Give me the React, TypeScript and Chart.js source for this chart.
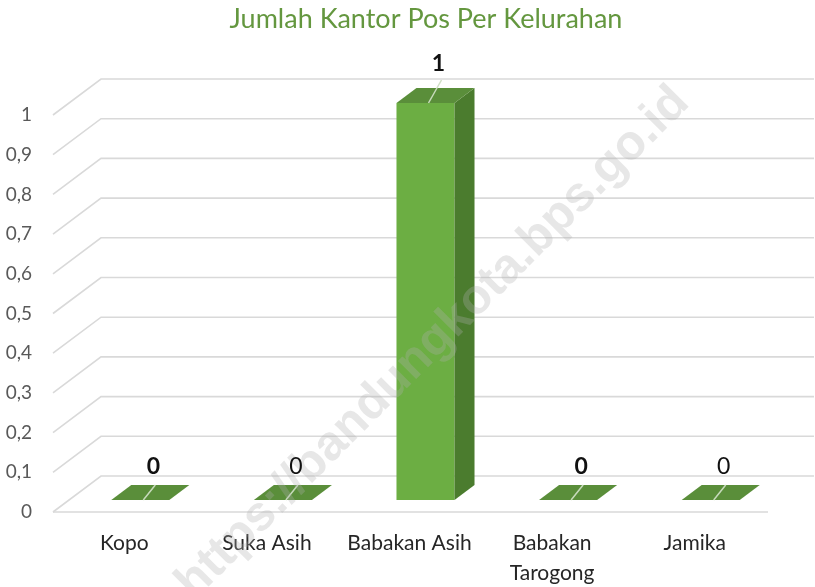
import React, { useEffect, useRef } from "react";
import { Chart, registerables } from "chart.js";

Chart.register(...registerables);

const categories: (string | string[])[] = ["Kopo", "Suka Asih", "Babakan Asih", ["Babakan", "Tarogong"], "Jamika"];
const values: number[] = [0, 0, 1, 0, 0];
const dataLabels: string[] = ["0", "0", "1", "0", "0"];
const labelBold: boolean[] = [true, false, true, true, false];
const yTickValues: number[] = [0, 0.1, 0.2, 0.3, 0.4, 0.5, 0.6, 0.7, 0.8, 0.9, 1];
const titleText = "Jumlah Kantor Pos Per Kelurahan";
const watermarkText = "https://bandungkota.bps.go.id";

const FONT = "Lato, 'Open Sans', sans-serif";
const FRONT = "#6cae43";
const TOP = "#5a8e3a";
const SIDE = "#4b7c2e";
const GRID = "#d9d9d9";

// depth of floor (px) and bar placement within depth
const DEPTH_X = 48;
const DEPTH_Y = -36;
const BAR_T0 = 1 / 3;
const BAR_T1 = 0.75;

const threeD = {
  id: "threeD",
  beforeDatasetsDraw(chart: any) {
    const ctx = chart.ctx;
    const area = chart.chartArea;
    const y = chart.scales.y;

    // gridlines: left wall diagonal + back wall horizontal
    ctx.save();
    ctx.strokeStyle = GRID;
    ctx.lineWidth = 1.6;
    yTickValues.forEach((v) => {
      const py = y.getPixelForValue(v);
      ctx.beginPath();
      ctx.moveTo(area.left, py);
      ctx.lineTo(area.left + DEPTH_X, py + DEPTH_Y);
      ctx.lineTo(area.right + DEPTH_X, py + DEPTH_Y);
      ctx.stroke();
    });
    // floor front edge
    const p0 = y.getPixelForValue(0);
    ctx.beginPath();
    ctx.moveTo(area.left, p0);
    ctx.lineTo(area.right + 2, p0);
    ctx.stroke();
    ctx.restore();

    ctx.save();
    ctx.translate(DEPTH_X * BAR_T0, DEPTH_Y * BAR_T0);
  },
  afterDatasetsDraw(chart: any) {
    const ctx = chart.ctx;
    ctx.restore();
    const meta = chart.getDatasetMeta(0);
    const ox = DEPTH_X * BAR_T0;
    const oy = DEPTH_Y * BAR_T0;
    const dx = DEPTH_X * (BAR_T1 - BAR_T0);
    const dy = DEPTH_Y * (BAR_T1 - BAR_T0);
    meta.data.forEach((bar: any) => {
      const p = bar.getProps(["x", "y", "base", "width"], true);
      const left = p.x - p.width / 2 + ox;
      const right = p.x + p.width / 2 + ox;
      const top = p.y + oy;
      const bottom = p.base + oy;
      const tall = bottom - top > 0.5;
      ctx.save();
      if (tall) {
        ctx.fillStyle = SIDE;
        ctx.beginPath();
        ctx.moveTo(right, top);
        ctx.lineTo(right + dx, top + dy);
        ctx.lineTo(right + dx, bottom + dy);
        ctx.lineTo(right, bottom);
        ctx.closePath();
        ctx.fill();
      }
      ctx.fillStyle = TOP;
      ctx.beginPath();
      ctx.moveTo(left, top);
      ctx.lineTo(left + dx, top + dy);
      ctx.lineTo(right + dx, top + dy);
      ctx.lineTo(right, top);
      ctx.closePath();
      ctx.fill();

      const cx = p.x + ox;
      // leader line
      ctx.strokeStyle = "rgba(205,222,195,0.95)";
      ctx.lineWidth = 1.5;
      ctx.beginPath();
      ctx.moveTo(cx + 3, top);
      ctx.lineTo(tall ? cx + 16 : cx + 15, tall ? top - 23 : top + dy);
      ctx.stroke();
      ctx.restore();
    });

    // watermark (over the plot, faint)
    ctx.save();
    ctx.translate(433, 343);
    ctx.rotate((-45 * Math.PI) / 180);
    ctx.font = "bold 49px 'Liberation Sans', Arial, sans-serif";
    ctx.fillStyle = "rgba(175,175,175,0.3)";
    ctx.textAlign = "center";
    ctx.textBaseline = "middle";
    ctx.fillText(watermarkText, 0, 0);
    ctx.restore();

    // data labels
    meta.data.forEach((bar: any, i: number) => {
      const p = bar.getProps(["x", "y", "base"], true);
      const top = p.y + oy;
      const bottom = p.base + oy;
      const tall = bottom - top > 0.5;
      const lx = p.x + ox + 13;
      const ly = top - (tall ? 39 : 33);
      ctx.save();
      ctx.fillStyle = "#111111";
      ctx.font = (labelBold[i] ? "bold " : "") + "23px " + FONT;
      ctx.textAlign = "center";
      ctx.textBaseline = "middle";
      ctx.fillText(dataLabels[i], lx, ly);
      ctx.restore();
    });
  },
  afterDraw(chart: any) {
    const ctx = chart.ctx;
    ctx.save();
    ctx.fillStyle = "#64973f";
    ctx.font = "27px " + FONT;
    ctx.textAlign = "center";
    ctx.textBaseline = "middle";
    ctx.fillText(titleText, 426, 19);
    ctx.restore();
  },
};

export default function App() {
  const ref = useRef<HTMLCanvasElement | null>(null);
  useEffect(() => {
    if (!ref.current) return;
    const chart = new Chart(ref.current, {
      type: "bar",
      data: {
        labels: categories,
        datasets: [
          {
            data: values,
            backgroundColor: FRONT,
            borderWidth: 0,
            categoryPercentage: 1,
            barPercentage: 0.407,
          },
        ],
      },
      options: {
        animation: false,
        responsive: false,
        layout: { padding: { left: 0, right: 49, top: 115, bottom: 0 } },
        plugins: {
          legend: { display: false },
          tooltip: { enabled: false },
          title: { display: false },
        },
        scales: {
          x: {
            type: "category",
            grid: { display: false, drawTicks: false },
            border: { display: false },
            ticks: {
              color: "#262626",
              font: { family: FONT, size: 21, lineHeight: 1.43 },
              padding: 16,
              maxRotation: 0,
              minRotation: 0,
              autoSkip: false,
            },
            afterFit: (s: any) => {
              s.height = 75;
            },
          },
          y: {
            type: "linear",
            position: "left",
            min: 0,
            max: 1,
            grid: { display: false, drawTicks: false },
            border: { display: false },
            ticks: {
              stepSize: 0.1,
              color: "#595959",
              font: { family: FONT, size: 19 },
              padding: 21,
              callback: (v: any) => String(Math.round(Number(v) * 10) / 10).replace(".", ","),
            },
            afterFit: (s: any) => {
              s.width = 53;
            },
          },
        },
      },
      plugins: [threeD],
    });
    return () => chart.destroy();
  }, []);
  return (
    <div style={{ position: "absolute", left: 0, top: 0, width: 815, height: 587, background: "#fff" }}>
      <canvas ref={ref} width={815} height={587} style={{ display: "block" }} />
    </div>
  );
}
